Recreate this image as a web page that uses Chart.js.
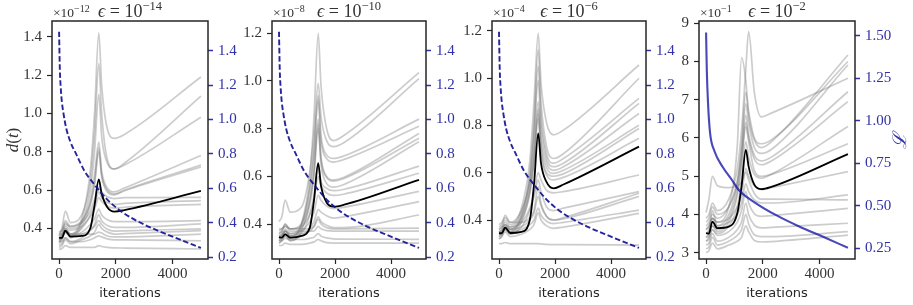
<!DOCTYPE html>
<html><head><meta charset="utf-8">
<script src="https://cdn.jsdelivr.net/npm/chart.js@4.4.1/dist/chart.umd.min.js"></script>
<style>
html,body{margin:0;padding:0;background:#fff;}
body{width:913px;height:305px;position:relative;overflow:hidden;}
canvas{position:absolute;top:0;}
</style></head>
<body>
<canvas id="p1"></canvas><canvas id="p2"></canvas><canvas id="p3"></canvas><canvas id="p4"></canvas>
<script>
// ---------- data ----------
const iterations = [0, 100, 220, 400, 800, 1100, 1250, 1400, 1500, 1700, 1950, 2300, 5000];

const xTicks = [0, 2000, 4000];
const xTickLabels = ['0', '2000', '4000'];
const leftTicksA = [0.4, 0.6, 0.8, 1.0, 1.2, 1.4];
const leftTickLabelsA = ['0.4', '0.6', '0.8', '1.0', '1.2', '1.4'];
const leftTicksB = [0.4, 0.6, 0.8, 1.0, 1.2];
const leftTickLabelsB = ['0.4', '0.6', '0.8', '1.0', '1.2'];
const leftTicksD = [3, 4, 5, 6, 7, 8, 9];
const leftTickLabelsD = ['3', '4', '5', '6', '7', '8', '9'];
const rightTicksA = [0.2, 0.4, 0.6, 0.8, 1.0, 1.2, 1.4];
const rightTickLabelsA = ['0.2', '0.4', '0.6', '0.8', '1.0', '1.2', '1.4'];
const rightTicksD = [0.25, 0.5, 0.75, 1.0, 1.25, 1.5];
const rightTickLabelsD = ['0.25', '0.50', '0.75', '1.00', '1.25', '1.50'];

// loss curve (right axis)
const lossIterA = [0, 25, 60, 100, 150, 250, 400, 600, 900, 1200, 1700, 2200, 3000, 4000, 5000];
const lossA = [1.51, 1.30, 1.18, 1.10, 1.04, 0.95, 0.87, 0.80, 0.70, 0.632, 0.535, 0.465, 0.39, 0.32, 0.254];
const lossIterD = [0, 25, 70, 140, 300, 580, 900, 1170, 1760, 2470, 3300, 4125, 5000];
const lossD = [1.52, 1.30, 1.10, 0.93, 0.82, 0.73, 0.655, 0.59, 0.515, 0.445, 0.377, 0.318, 0.253];

// panel 1 (eps = 1e-14), values x 1e-12
const p1Mean = [0.35, 0.35, 0.388, 0.357, 0.36, 0.40, 0.52, 0.655, 0.58, 0.51, 0.487, 0.495, 0.595];
const p1Runs = [
  [0.34, 0.36, 0.40, 0.37, 0.45, 0.70, 1.00, 1.42, 1.15, 0.92, 0.87, 0.89, 1.19],
  [0.36, 0.40, 0.49, 0.43, 0.47, 0.65, 0.90, 1.26, 1.00, 0.76, 0.71, 0.74, 1.09],
  [0.33, 0.35, 0.38, 0.36, 0.43, 0.60, 0.80, 1.10, 0.88, 0.74, 0.71, 0.73, 0.98],
  [0.35, 0.37, 0.43, 0.40, 0.43, 0.55, 0.68, 0.85, 0.70, 0.61, 0.59, 0.61, 0.78],
  [0.32, 0.34, 0.38, 0.35, 0.41, 0.52, 0.64, 0.82, 0.68, 0.60, 0.58, 0.60, 0.73],
  [0.37, 0.39, 0.44, 0.41, 0.44, 0.53, 0.63, 0.80, 0.67, 0.59, 0.575, 0.595, 0.72],
  [0.38, 0.39, 0.42, 0.41, 0.43, 0.49, 0.55, 0.615, 0.59, 0.565, 0.555, 0.56, 0.562],
  [0.33, 0.35, 0.40, 0.37, 0.40, 0.47, 0.52, 0.59, 0.56, 0.535, 0.525, 0.53, 0.545],
  [0.36, 0.37, 0.41, 0.39, 0.41, 0.46, 0.50, 0.56, 0.54, 0.515, 0.505, 0.51, 0.525],
  [0.34, 0.35, 0.39, 0.36, 0.38, 0.42, 0.45, 0.50, 0.47, 0.445, 0.435, 0.435, 0.44],
  [0.31, 0.32, 0.35, 0.33, 0.35, 0.39, 0.42, 0.47, 0.44, 0.415, 0.405, 0.405, 0.423],
  [0.35, 0.36, 0.38, 0.36, 0.37, 0.39, 0.41, 0.44, 0.42, 0.395, 0.385, 0.387, 0.397],
  [0.30, 0.31, 0.34, 0.32, 0.34, 0.36, 0.38, 0.42, 0.40, 0.38, 0.37, 0.372, 0.388],
  [0.37, 0.37, 0.38, 0.37, 0.37, 0.37, 0.37, 0.38, 0.375, 0.36, 0.355, 0.355, 0.37],
  [0.33, 0.33, 0.35, 0.33, 0.33, 0.34, 0.35, 0.36, 0.355, 0.345, 0.34, 0.34, 0.335],
  [0.29, 0.295, 0.31, 0.30, 0.30, 0.30, 0.30, 0.31, 0.305, 0.30, 0.298, 0.297, 0.292]
];

// panel 2 (eps = 1e-10), values x 1e-8
const p2Mean = [0.345, 0.343, 0.357, 0.343, 0.35, 0.385, 0.50, 0.655, 0.56, 0.49, 0.473, 0.48, 0.585];
const p2Runs = [
  [0.34, 0.35, 0.37, 0.35, 0.40, 0.60, 0.85, 1.20, 0.98, 0.80, 0.75, 0.77, 1.035],
  [0.41, 0.43, 0.50, 0.45, 0.47, 0.62, 0.78, 0.99, 0.85, 0.75, 0.725, 0.74, 1.01],
  [0.33, 0.34, 0.36, 0.34, 0.39, 0.55, 0.72, 0.94, 0.77, 0.69, 0.675, 0.685, 0.84],
  [0.35, 0.36, 0.38, 0.36, 0.40, 0.55, 0.70, 0.92, 0.75, 0.675, 0.66, 0.67, 0.81],
  [0.32, 0.33, 0.35, 0.33, 0.37, 0.50, 0.64, 0.84, 0.68, 0.60, 0.585, 0.595, 0.78],
  [0.36, 0.37, 0.40, 0.38, 0.40, 0.50, 0.62, 0.82, 0.67, 0.595, 0.58, 0.59, 0.76],
  [0.34, 0.35, 0.37, 0.35, 0.38, 0.48, 0.60, 0.80, 0.65, 0.57, 0.555, 0.565, 0.745],
  [0.33, 0.34, 0.36, 0.34, 0.36, 0.44, 0.52, 0.65, 0.58, 0.55, 0.54, 0.545, 0.643],
  [0.37, 0.38, 0.39, 0.38, 0.39, 0.44, 0.50, 0.60, 0.56, 0.53, 0.52, 0.525, 0.613],
  [0.35, 0.355, 0.37, 0.36, 0.37, 0.41, 0.45, 0.52, 0.50, 0.475, 0.465, 0.47, 0.537],
  [0.32, 0.33, 0.35, 0.33, 0.35, 0.38, 0.41, 0.46, 0.45, 0.435, 0.425, 0.43, 0.494],
  [0.34, 0.35, 0.37, 0.35, 0.36, 0.37, 0.39, 0.43, 0.41, 0.395, 0.385, 0.385, 0.438],
  [0.38, 0.38, 0.39, 0.38, 0.38, 0.38, 0.39, 0.42, 0.40, 0.385, 0.38, 0.38, 0.383],
  [0.36, 0.37, 0.40, 0.37, 0.37, 0.37, 0.37, 0.39, 0.38, 0.372, 0.37, 0.37, 0.37],
  [0.33, 0.33, 0.34, 0.335, 0.335, 0.34, 0.345, 0.36, 0.35, 0.342, 0.338, 0.337, 0.336],
  [0.31, 0.31, 0.32, 0.315, 0.315, 0.32, 0.325, 0.335, 0.33, 0.322, 0.32, 0.32, 0.32]
];

// panel 3 (eps = 1e-6), values x 1e-4
const p3Mean = [0.344, 0.344, 0.368, 0.345, 0.35, 0.40, 0.55, 0.766, 0.64, 0.56, 0.534, 0.55, 0.71];
const p3Runs = [
  [0.36, 0.37, 0.40, 0.38, 0.45, 0.65, 0.90, 1.19, 0.98, 0.81, 0.76, 0.78, 1.055],
  [0.34, 0.35, 0.38, 0.36, 0.42, 0.60, 0.82, 1.12, 0.90, 0.71, 0.66, 0.68, 0.999],
  [0.35, 0.36, 0.39, 0.37, 0.43, 0.58, 0.78, 1.05, 0.84, 0.68, 0.64, 0.66, 0.914],
  [0.33, 0.34, 0.37, 0.35, 0.41, 0.56, 0.75, 0.99, 0.80, 0.66, 0.625, 0.64, 0.893],
  [0.37, 0.38, 0.42, 0.39, 0.44, 0.56, 0.70, 0.90, 0.75, 0.64, 0.61, 0.625, 0.85],
  [0.32, 0.33, 0.36, 0.34, 0.39, 0.52, 0.66, 0.87, 0.72, 0.62, 0.597, 0.61, 0.80],
  [0.35, 0.36, 0.38, 0.36, 0.41, 0.53, 0.66, 0.85, 0.70, 0.60, 0.585, 0.595, 0.787],
  [0.34, 0.35, 0.37, 0.35, 0.40, 0.51, 0.64, 0.83, 0.68, 0.59, 0.57, 0.58, 0.745],
  [0.36, 0.37, 0.38, 0.37, 0.39, 0.45, 0.51, 0.60, 0.57, 0.525, 0.515, 0.52, 0.59],
  [0.33, 0.34, 0.36, 0.34, 0.37, 0.44, 0.50, 0.57, 0.52, 0.455, 0.44, 0.45, 0.52],
  [0.38, 0.39, 0.41, 0.39, 0.39, 0.41, 0.44, 0.54, 0.47, 0.415, 0.40, 0.41, 0.513],
  [0.35, 0.35, 0.37, 0.36, 0.37, 0.40, 0.43, 0.50, 0.46, 0.415, 0.40, 0.405, 0.50],
  [0.34, 0.345, 0.36, 0.35, 0.36, 0.38, 0.40, 0.45, 0.42, 0.395, 0.385, 0.39, 0.442],
  [0.32, 0.33, 0.35, 0.33, 0.34, 0.36, 0.38, 0.43, 0.40, 0.375, 0.365, 0.37, 0.428],
  [0.30, 0.30, 0.305, 0.30, 0.30, 0.30, 0.30, 0.30, 0.299, 0.297, 0.296, 0.296, 0.294]
];

// panel 4 (eps = 1e-2), values x 1e-1
const p4Mean = [3.51, 3.50, 3.81, 3.64, 3.68, 4.03, 4.73, 5.69, 5.25, 4.78, 4.66, 4.72, 5.58];
const p4Runs = [
  [3.9, 4.0, 4.3, 4.1, 4.4, 5.2, 6.2, 7.8, 8.78, 7.2, 6.55, 6.65, 7.56],
  [3.6, 3.7, 3.9, 3.8, 4.2, 5.8, 8.1, 7.5, 6.6, 5.95, 5.75, 5.9, 8.17],
  [3.5, 3.6, 3.9, 3.7, 4.0, 4.8, 5.8, 7.2, 6.7, 6.0, 5.85, 5.95, 8.0],
  [3.7, 3.8, 4.0, 3.9, 4.2, 4.9, 5.7, 6.9, 6.4, 5.75, 5.6, 5.7, 7.91],
  [3.4, 3.5, 3.7, 3.6, 3.9, 4.6, 5.4, 6.6, 6.1, 5.55, 5.4, 5.5, 7.21],
  [3.8, 3.9, 4.2, 4.0, 4.2, 4.8, 5.5, 6.4, 6.0, 5.45, 5.3, 5.4, 6.95],
  [3.3, 3.4, 3.6, 3.5, 3.7, 4.2, 4.9, 5.9, 5.5, 5.05, 4.95, 5.05, 6.30],
  [4.05, 4.4, 5.0, 4.75, 4.7, 4.75, 4.85, 5.1, 4.9, 4.55, 4.4, 4.4, 4.38],
  [3.6, 3.7, 3.9, 3.8, 3.9, 4.2, 4.5, 5.2, 5.0, 4.75, 4.65, 4.7, 5.12],
  [3.5, 3.55, 4.1, 3.7, 3.8, 4.0, 4.3, 4.8, 4.6, 4.38, 4.3, 4.3, 4.51],
  [3.3, 3.35, 3.6, 3.45, 3.55, 3.8, 4.1, 4.6, 4.3, 4.02, 3.95, 3.97, 4.16],
  [3.2, 3.25, 3.5, 3.3, 3.4, 3.6, 3.8, 4.3, 4.0, 3.72, 3.65, 3.66, 3.77],
  [3.1, 3.15, 3.4, 3.2, 3.3, 3.45, 3.6, 4.0, 3.75, 3.47, 3.42, 3.42, 3.55],
  [3.0, 3.05, 3.25, 3.1, 3.2, 3.3, 3.4, 3.7, 3.55, 3.32, 3.28, 3.29, 3.46],
  [3.4, 3.45, 3.7, 3.55, 3.8, 4.5, 5.3, 6.3, 5.9, 5.15, 5.0, 5.05, 5.85]
];

// ---------- drawing ----------
const SERIF = "'Liberation Serif', 'DejaVu Serif', serif";
const SANS = "'DejaVu Sans', sans-serif";
const INK = '#262626';
const BLUE_TXT = '#3030a8';

function fontOf(p) { return (p.it ? 'italic ' : '') + p.s + 'px ' + SERIF; }
function drawRich(ctx, parts, x, y, align, color, rot) {
  ctx.save();
  ctx.translate(x, y);
  if (rot) ctx.rotate(rot);
  ctx.textBaseline = 'alphabetic';
  ctx.textAlign = 'left';
  ctx.fillStyle = color;
  let total = 0; const ws = [];
  parts.forEach(p => { ctx.font = fontOf(p); const w = ctx.measureText(p.t).width; ws.push(w); total += w; });
  let cx = align === 'center' ? -total / 2 : (align === 'right' ? -total : 0);
  parts.forEach((p, i) => { ctx.font = fontOf(p); ctx.fillText(p.t, cx, -(p.dy || 0)); cx += ws[i]; });
  ctx.restore();
}

function makePanel(id, cfg) {
  const canvas = document.getElementById(id);
  const L = 52, R = cfg.R, H = 305;
  const W = L + cfg.plotW + R;
  canvas.width = W; canvas.height = H;
  canvas.style.left = (cfg.plotLeft - L) + 'px';
  canvas.style.width = W + 'px'; canvas.style.height = H + 'px';

  const panelText = {
    id: 'panelText' + id,
    afterDraw(chart) {
      const ctx = chart.ctx, a = chart.chartArea;
      ctx.save();
      ctx.strokeStyle = INK; ctx.lineWidth = 1.5;
      ctx.strokeRect(a.left, a.top, a.right - a.left, a.bottom - a.top);
      const cx = (a.left + a.right) / 2;
      drawRich(ctx, cfg.offset, a.left + 1, 17, 'left', '#333');
      drawRich(ctx, cfg.title, cx, 17, 'center', '#333');
      ctx.font = '13px ' + SANS; ctx.fillStyle = INK; ctx.textAlign = 'center'; ctx.textBaseline = 'alphabetic';
      ctx.fillText('iterations', cx, 296.5);
      if (cfg.leftLabel) drawRich(ctx, cfg.leftLabel, cfg.leftLabelX - (cfg.plotLeft - L), 140, 'center', '#333', -Math.PI / 2);
      if (cfg.rightLabel) drawRich(ctx, cfg.rightLabel, cfg.rightLabelX - (cfg.plotLeft - L), 141, 'center', BLUE_TXT, -Math.PI / 2);
      ctx.restore();
    }
  };

  const datasets = [];
  datasets.push({
    data: cfg.lossX.map((x, i) => ({ x: x, y: cfg.lossY[i] })),
    yAxisID: 'y2', borderColor: cfg.dashed ? 'rgba(18,18,150,0.92)' : 'rgba(20,20,165,0.78)',
    borderDash: cfg.dashed ? [5.5, 2.6] : [], borderWidth: cfg.dashed ? 1.9 : 2.1, order: 0,
    cubicInterpolationMode: 'monotone'
  });
  datasets.push({
    data: iterations.map((x, i) => ({ x: x, y: cfg.mean[i] })),
    yAxisID: 'y', borderColor: '#000', borderWidth: 1.8, order: 1, cubicInterpolationMode: 'monotone'
  });
  cfg.runs.forEach((r, k) => datasets.push({
    data: iterations.map((x, i) => ({ x: x, y: r[i] })),
    yAxisID: 'y', borderColor: 'rgba(120,120,120,0.38)', borderWidth: 1.7, order: 2 + k,
    cubicInterpolationMode: 'monotone'
  }));

  const tickFont = { family: SERIF, size: 15 };
  new Chart(canvas, {
    type: 'line',
    data: { datasets },
    plugins: [panelText],
    options: {
      responsive: false, animation: false, devicePixelRatio: 1,
      layout: { padding: { top: 21, left: 0, right: 0, bottom: 0 } },
      elements: { point: { radius: 0 } },
      plugins: { legend: { display: false }, tooltip: { enabled: false } },
      scales: {
        x: {
          type: 'linear', min: -250, max: 5250,
          afterBuildTicks: s => { s.ticks = xTicks.map(v => ({ value: v })); },
          afterFit: s => { s.height = 46; },
          ticks: { callback: (v, i) => xTickLabels[i], font: tickFont, color: '#333', padding: 1, maxRotation: 0, autoSkip: false },
          grid: { drawOnChartArea: false, drawTicks: true, tickLength: 5, tickColor: INK, tickWidth: 1.2 },
          border: { display: false }
        },
        y: {
          type: 'linear', position: 'left', min: cfg.yMin, max: cfg.yMax,
          afterBuildTicks: s => { s.ticks = cfg.yTicks.map(v => ({ value: v })); },
          afterFit: s => { s.width = L; },
          ticks: { callback: (v, i) => cfg.yLabels[i], font: tickFont, color: '#333', padding: 5, autoSkip: false },
          grid: { drawOnChartArea: false, drawTicks: true, tickLength: 5, tickColor: INK, tickWidth: 1.2 },
          border: { display: false }
        },
        y2: {
          type: 'linear', position: 'right', min: cfg.y2Min, max: cfg.y2Max,
          afterBuildTicks: s => { s.ticks = cfg.y2Ticks.map(v => ({ value: v })); },
          afterFit: s => { s.width = R; },
          ticks: { callback: (v, i) => cfg.y2Labels[i], font: tickFont, color: BLUE_TXT, padding: 5, autoSkip: false },
          grid: { drawOnChartArea: false, drawTicks: true, tickLength: 5, tickColor: BLUE_TXT, tickWidth: 1.5 },
          border: { display: false }
        }
      }
    }
  });
}

function expTitle(e) {
  return [{ t: 'ϵ', s: 18, it: true }, { t: ' = 10', s: 18 }, { t: e, s: 12.5, dy: 7.5 }];
}
function expOffset(e) {
  return [{ t: '×10', s: 13.5 }, { t: e, s: 10, dy: 5.5 }];
}

makePanel('p1', {
  plotLeft: 52, plotW: 156, R: 48,
  runs: p1Runs, mean: p1Mean, lossX: lossIterA, lossY: lossA, dashed: true,
  yMin: 0.2397, yMax: 1.4825, yTicks: leftTicksA, yLabels: leftTickLabelsA,
  y2Min: 0.19, y2Max: 1.572, y2Ticks: rightTicksA, y2Labels: rightTickLabelsA,
  offset: expOffset('−12'), title: expTitle('−14'),
  leftLabel: [{ t: 'd', s: 17, it: true }, { t: '(', s: 17 }, { t: 't', s: 17, it: true }, { t: ')', s: 17 }],
  leftLabelX: 18
});
makePanel('p2', {
  plotLeft: 272, plotW: 154, R: 48,
  runs: p2Runs, mean: p2Mean, lossX: lossIterA, lossY: lossA, dashed: true,
  yMin: 0.2533, yMax: 1.2516, yTicks: leftTicksB, yLabels: leftTickLabelsB,
  y2Min: 0.19, y2Max: 1.572, y2Ticks: rightTicksA, y2Labels: rightTickLabelsA,
  offset: expOffset('−8'), title: expTitle('−10')
});
makePanel('p3', {
  plotLeft: 492, plotW: 154, R: 48,
  runs: p3Runs, mean: p3Mean, lossX: lossIterA, lossY: lossA, dashed: true,
  yMin: 0.2352, yMax: 1.241, yTicks: leftTicksB, yLabels: leftTickLabelsB,
  y2Min: 0.19, y2Max: 1.572, y2Ticks: rightTicksA, y2Labels: rightTickLabelsA,
  offset: expOffset('−4'), title: expTitle('−6')
});
makePanel('p4', {
  plotLeft: 699, plotW: 156, R: 58,
  runs: p4Runs, mean: p4Mean, lossX: lossIterD, lossY: lossD, dashed: false,
  yMin: 2.835, yMax: 9.06, yTicks: leftTicksD, yLabels: leftTickLabelsD,
  y2Min: 0.187, y2Max: 1.588, y2Ticks: rightTicksD, y2Labels: rightTickLabelsD,
  offset: expOffset('−1'), title: expTitle('−2'),
  rightLabel: [{ t: 'ℒ', s: 19, it: true }], rightLabelX: 906
});
</script>
</body></html>
